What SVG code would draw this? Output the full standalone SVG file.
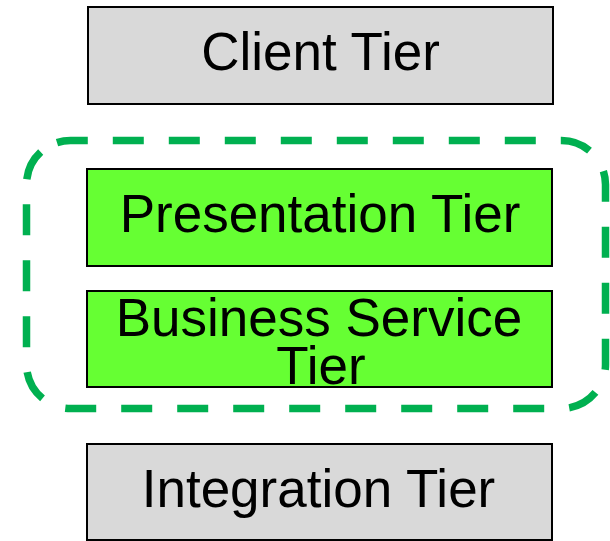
<svg xmlns="http://www.w3.org/2000/svg" width="610" height="541" viewBox="0 0 610 541">
  <style>
    .box { stroke: #000; stroke-width: 2; }
    .gray { fill: #d9d9d9; }
    .green { fill: #66ff33; }
    .lbl { font-family: "Liberation Sans", Arial, sans-serif; font-size: 53px; fill: #000; text-anchor: middle; }
    .group { fill: none; stroke: #00b050; stroke-width: 7.5; stroke-dasharray: 31 25; }
  </style>
  <rect width="610" height="541" fill="#fff"/>
  <g id="connectors"></g>
  <!-- dashed rounded boundary around the middle tiers -->
  <g id="tier-group">
    <path class="group" d="M57,142.6 A44,44 0 0 1 70.5,140.5 H561.5 A44,44 0 0 1 605.5,184.5 V364.5 A44,44 0 0 1 561.5,408.5 H70.5 A44,44 0 0 1 26.5,364.5 V184.5 A44,44 0 0 1 57,142.6 Z"/>
  </g>
  <g id="client-tier">
    <rect class="box gray" x="88" y="7" width="465" height="97"/>
    <text class="lbl" x="320.5" y="70">Client Tier</text>
  </g>
  <g id="presentation-tier">
    <rect class="box green" x="87" y="169" width="465" height="97"/>
    <text class="lbl" x="320" y="232">Presentation Tier</text>
  </g>
  <g id="business-service-tier">
    <rect class="box green" x="87" y="291" width="465" height="96"/>
    <text class="lbl" x="319" y="336">Business Service</text>
    <text class="lbl" x="321" y="384">Tier</text>
  </g>
  <g id="integration-tier">
    <rect class="box gray" x="87" y="444" width="465" height="96"/>
    <text class="lbl" x="318.5" y="507">Integration Tier</text>
  </g>
</svg>
